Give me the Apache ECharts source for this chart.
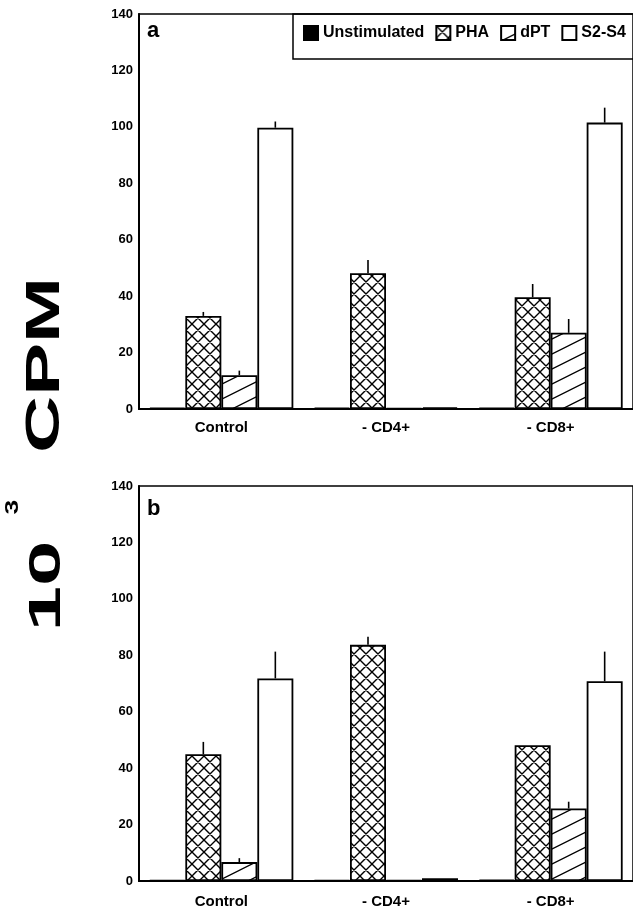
<!DOCTYPE html>
<html>
<head>
<meta charset="utf-8">
<script src="https://cdn.jsdelivr.net/npm/echarts@6/dist/echarts.min.js"></script>
<style>
html,body{margin:0;padding:0;background:#fff;}
#chart{width:633px;height:909px;}
</style>
</head>
<body>
<div id="chart"></div>
<script>
// ---------- data ----------
const categories = ['Control', '- CD4+', '- CD8+'];
const seriesNames = ['Unstimulated', 'PHA', 'dPT', 'S2-S4'];
const yMin = 0, yMax = 140, yStep = 20;

// panel a
const aUnstim = [0.4, 0.4, 0.4];
const aPHA    = [33.0, 48.1, 39.6];
const aDPT    = [12.0, 0.3, 27.0];
const aS2S4   = [99.7, 0.6, 101.5];
const aUnstimErr = [0, 0, 0];
const aPHAErr    = [1.4, 4.7, 4.7];
const aDPTErr    = [1.6, 0, 4.9];
const aS2S4Err   = [2.2, 0, 5.3];

// panel b
const bUnstim = [0.3, 0.3, 0.5];
const bPHA    = [44.9, 83.7, 48.1];
const bDPT    = [6.7, 0.3, 25.7];
const bS2S4   = [71.8, 1.0, 70.8];
const bUnstimErr = [0, 0, 0];
const bPHAErr    = [4.4, 2.9, 0];
const bDPTErr    = [1.4, 0, 2.4];
const bS2S4Err   = [9.5, 0, 10.5];

const panelLabels = ['a', 'b'];

// ---------- patterns ----------
function crossPattern() {
  const s = 12, c = document.createElement('canvas');
  c.width = s; c.height = s;
  const g = c.getContext('2d');
  g.fillStyle = '#fff'; g.fillRect(0, 0, s, s);
  g.strokeStyle = '#000'; g.lineWidth = 1.4;
  g.beginPath();
  for (let k = -1; k <= 1; k++) {
    g.moveTo(-2 + k * s, -2); g.lineTo(s + 2 + k * s, s + 2);
    g.moveTo(-2 + k * s, s + 2); g.lineTo(s + 2 + k * s, -2);
  }
  g.stroke();
  return c;
}
function slashPattern() {
  const W = 30, H = 15, c = document.createElement('canvas');
  c.width = W; c.height = H;
  const g = c.getContext('2d');
  g.fillStyle = '#fff'; g.fillRect(0, 0, W, H);
  g.strokeStyle = '#000'; g.lineWidth = 1.3;
  g.beginPath();
  for (let k = -1; k <= 1; k++) {
    g.moveTo(-W, 2 * H + k * H); g.lineTo(2 * W, -H + k * H);
  }
  g.stroke();
  return c;
}

const fills = [
  '#000',
  { image: crossPattern(), repeat: 'repeat' },
  { image: slashPattern(), repeat: 'repeat' },
  '#fff'
];

const FONT = '"Liberation Sans", Arial, Helvetica, sans-serif';
const BAR_W = 36;

const panels = [
  { vals: [aUnstim, aPHA, aDPT, aS2S4], errs: [aUnstimErr, aPHAErr, aDPTErr, aS2S4Err] },
  { vals: [bUnstim, bPHA, bDPT, bS2S4], errs: [bUnstimErr, bPHAErr, bDPTErr, bS2S4Err] }
];

const grids = [
  { left: 139, top: 14, width: 498, height: 395 },
  { left: 139, top: 486, width: 498, height: 397 }
];

const series = [];
panels.forEach((p, gi) => {
  p.vals.forEach((arr, si) => {
    series.push({
      name: seriesNames[si],
      type: 'bar',
      xAxisIndex: gi, yAxisIndex: gi,
      barWidth: BAR_W,
      barGap: '0%',
      data: arr,
      silent: true,
      itemStyle: { color: fills[si], borderColor: '#000', borderWidth: 1.8 },
      z: 2
    });
  });
  const errData = [];
  p.vals.forEach((arr, si) => {
    arr.forEach((v, ci) => {
      if (p.errs[si][ci] > 0) errData.push([ci, v, p.errs[si][ci], si]);
    });
  });
  series.push({
    type: 'custom',
    xAxisIndex: gi, yAxisIndex: gi,
    silent: true,
    z: 3,
    data: errData,
    renderItem: function (params, api) {
      const ci = api.value(0), v = api.value(1), e = api.value(2), si = api.value(3);
      const p0 = api.coord([ci, v]);
      const p1 = api.coord([ci, v + e]);
      const x = p0[0] + (si - 1.5) * BAR_W;
      return {
        type: 'line',
        shape: { x1: x, y1: p0[1], x2: x, y2: p1[1] },
        style: { stroke: '#000', lineWidth: 1.6 }
      };
    }
  });
});

const option = {
  backgroundColor: '#fff',
  animation: false,
  textStyle: { fontFamily: FONT },
  grid: grids.map(g => Object.assign({ show: true, borderColor: '#000', borderWidth: 1.5, backgroundColor: 'transparent' }, g)),
  legend: {
    data: seriesNames,
    left: 303, top: 25,
    icon: 'rect',
    itemWidth: 14, itemHeight: 14,
    itemGap: 11,
    padding: 0,
    selectedMode: false,
    textStyle: { fontSize: 16, fontWeight: 'bold', color: '#000', fontFamily: FONT }
  },
  xAxis: [0, 1].map(i => ({
    type: 'category',
    gridIndex: i,
    data: categories,
    axisLine: { lineStyle: { color: '#000', width: 2 } },
    axisTick: { show: false },
    axisLabel: { color: '#000', fontSize: 15, fontWeight: 'bold', fontFamily: FONT, margin: i === 0 ? 11 : 13 },
    splitLine: { show: false }
  })),
  yAxis: [0, 1].map(i => ({
    type: 'value',
    gridIndex: i,
    min: yMin, max: yMax, interval: yStep,
    axisLine: { show: true, lineStyle: { color: '#000', width: 2 } },
    axisTick: { show: false },
    axisLabel: { color: '#000', fontSize: 13, fontWeight: 'bold', fontFamily: FONT, margin: 6 },
    splitLine: { show: false }
  })),
  graphic: [
    { type: 'rect', shape: { x: 293, y: 14, width: 400, height: 45 }, style: { fill: 'none', stroke: '#000', lineWidth: 1.5 }, z: 10 },
    { type: 'text', x: 147, y: 31, style: { text: panelLabels[0], font: 'bold 22px ' + FONT, fill: '#000', align: 'left', verticalAlign: 'middle' }, z: 10 },
    { type: 'text', x: 147, y: 509, style: { text: panelLabels[1], font: 'bold 22px ' + FONT, fill: '#000', align: 'left', verticalAlign: 'middle' }, z: 10 },
    { type: 'text', x: 45.5, y: 365, rotation: Math.PI / 2, scaleX: 1.65, style: { text: 'CPM', font: 'bold 48px ' + FONT, fill: '#000', align: 'center', verticalAlign: 'middle' }, z: 10 },
    { type: 'text', x: 47.5, y: 586, rotation: Math.PI / 2, scaleX: 1.85, style: { text: '10', font: 'bold 44px ' + FONT, fill: '#000', align: 'center', verticalAlign: 'middle' }, z: 10 },
    { type: 'text', x: 13, y: 507, rotation: Math.PI / 2, scaleX: 1.4, style: { text: '3', font: 'bold 19px ' + FONT, fill: '#000', align: 'center', verticalAlign: 'middle' }, z: 10 }
  ],
  series: series
};

const chart = echarts.init(document.getElementById('chart'), null, { renderer: 'canvas' });
chart.setOption(option);
</script>
</body>
</html>
